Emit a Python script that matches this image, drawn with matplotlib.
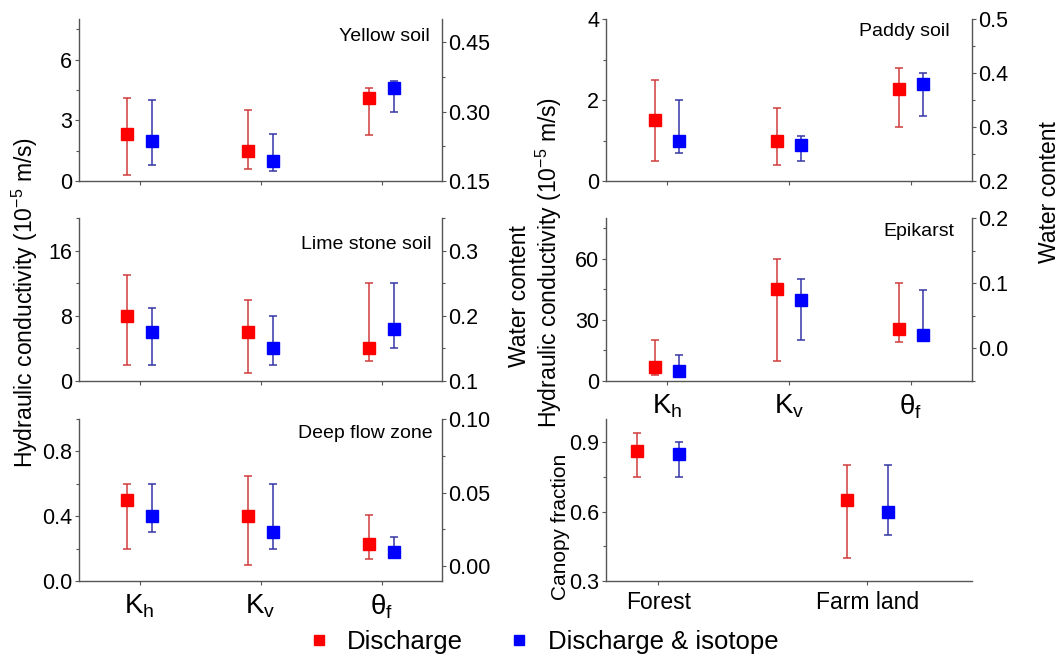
import numpy as np
import matplotlib
matplotlib.use('Agg')
import matplotlib.pyplot as plt
from matplotlib.ticker import MultipleLocator, FormatStrFormatter
from matplotlib.lines import Line2D

plt.rcParams['font.family'] = ['Liberation Sans', 'DejaVu Sans']
plt.rcParams['mathtext.fontset'] = 'custom'
plt.rcParams['mathtext.rm'] = 'Liberation Sans'
plt.rcParams['mathtext.it'] = 'Liberation Sans:italic'

params = [r'$\mathregular{K_h}$', r'$\mathregular{K_v}$', r'$\mathregular{\theta_f}$']
lands = ['Forest', 'Farm land']

# values per panel: [Kh, Kv, theta_f]  (theta_f goes on the right axis)
yellow_dis = [2.3, 1.5, 0.33]
yellow_dis_lo = [0.3, 0.6, 0.25]
yellow_dis_hi = [4.1, 3.5, 0.35]
yellow_iso = [2.0, 1.0, 0.35]
yellow_iso_lo = [0.8, 0.5, 0.30]
yellow_iso_hi = [4.0, 2.3, 0.365]

lime_dis = [8.0, 6.0, 0.15]
lime_dis_lo = [2.0, 1.0, 0.13]
lime_dis_hi = [13.0, 10.0, 0.25]
lime_iso = [6.0, 4.0, 0.18]
lime_iso_lo = [2.0, 2.0, 0.15]
lime_iso_hi = [9.0, 8.0, 0.25]

deep_dis = [0.5, 0.4, 0.015]
deep_dis_lo = [0.2, 0.1, 0.005]
deep_dis_hi = [0.6, 0.65, 0.035]
deep_iso = [0.4, 0.3, 0.010]
deep_iso_lo = [0.3, 0.2, 0.007]
deep_iso_hi = [0.6, 0.6, 0.020]

paddy_dis = [1.5, 1.0, 0.37]
paddy_dis_lo = [0.5, 0.4, 0.30]
paddy_dis_hi = [2.5, 1.8, 0.41]
paddy_iso = [1.0, 0.9, 0.38]
paddy_iso_lo = [0.7, 0.5, 0.32]
paddy_iso_hi = [2.0, 1.1, 0.40]

epi_dis = [7.0, 45.0, 0.03]
epi_dis_lo = [3.0, 10.0, 0.01]
epi_dis_hi = [20.0, 60.0, 0.10]
epi_iso = [5.0, 40.0, 0.02]
epi_iso_lo = [3.0, 20.0, 0.015]
epi_iso_hi = [13.0, 50.0, 0.09]

canopy_dis = [0.86, 0.65]
canopy_dis_lo = [0.75, 0.40]
canopy_dis_hi = [0.94, 0.80]
canopy_iso = [0.85, 0.60]
canopy_iso_lo = [0.75, 0.50]
canopy_iso_hi = [0.90, 0.80]

RED, RED_E = '#ff0000', '#d03c3c'
BLUE, BLUE_E = '#0000ff', '#3535a5'
SPINE = '#555555'
W, H = 1064, 664


def style_axis(ax, left=True, right=False):
    for side in ['top', 'right', 'left', 'bottom']:
        ax.spines[side].set_visible(False)
    if left:
        ax.spines['left'].set_visible(True)
        ax.spines['bottom'].set_visible(True)
    if right:
        ax.spines['right'].set_visible(True)
    for s in ax.spines.values():
        s.set_color(SPINE)
        s.set_linewidth(1.0)
    ax.tick_params(which='major', direction='out', length=3, width=0.8, color=SPINE,
                   labelsize=15.5, pad=1.2 if right else 1.8)
    ax.tick_params(which='minor', direction='out', length=2, width=0.8, color=SPINE)


def draw_bars(ax, x, mid, lo, hi, mcolor, ecolor):
    mid = np.asarray(mid)
    err = [mid - np.asarray(lo), np.asarray(hi) - mid]
    ax.errorbar(x, mid, yerr=err, fmt='s', ms=8, color=mcolor, mec=mcolor,
                ecolor=ecolor, elinewidth=1.1, capsize=3, capthick=1.1)


def plot_panel(rect, dis, dis_lo, dis_hi, iso, iso_lo, iso_hi, title, title_xy,
               klim, kmaj, kfmt, tlim, tmaj, tfmt, show_x=False):
    ax = fig.add_axes(rect)
    ax2 = ax.twinx()
    x = np.arange(1, 4)
    for d, lo, hi, mc, ec, sh in [(dis, dis_lo, dis_hi, RED, RED_E, -0.1),
                                  (iso, iso_lo, iso_hi, BLUE, BLUE_E, 0.1)]:
        draw_bars(ax, x[:2] + sh, d[:2], lo[:2], hi[:2], mc, ec)
        draw_bars(ax2, x[2:] + sh, d[2:], lo[2:], hi[2:], mc, ec)
    ax.set_xlim(0.5, 3.5)
    ax.set_ylim(*klim)
    ax.yaxis.set_major_locator(MultipleLocator(kmaj))
    ax.yaxis.set_minor_locator(MultipleLocator(kmaj / 2))
    ax.yaxis.set_major_formatter(FormatStrFormatter(kfmt))
    ax2.set_ylim(*tlim)
    ax2.yaxis.set_major_locator(MultipleLocator(tmaj))
    ax2.yaxis.set_minor_locator(MultipleLocator(tmaj / 2))
    ax2.yaxis.set_major_formatter(FormatStrFormatter(tfmt))
    ax.set_xticks(x)
    style_axis(ax)
    style_axis(ax2, left=False, right=True)
    if show_x:
        ax.set_xticklabels(params)
    else:
        ax.set_xticklabels([])
    ax.tick_params(axis='x', length=3, pad=5, labelsize=20)
    ax2.text(title_xy[0], title_xy[1], title, transform=ax2.transAxes,
             ha='right', va='center', fontsize=14)
    return ax


fig = plt.figure(figsize=(W / 100, H / 100), dpi=100)

left_x, left_w = 79 / W, 363 / W
right_x, right_w = 606 / W, 366 / W
rows = [(1 - 181 / H, 162 / H), (1 - 381 / H, 163 / H), (1 - 581 / H, 162 / H)]

plot_panel([left_x, rows[0][0], left_w, rows[0][1]], yellow_dis, yellow_dis_lo, yellow_dis_hi,
           yellow_iso, yellow_iso_lo, yellow_iso_hi, 'Yellow soil', (0.967, 0.895),
           (0, 8), 3, '%g', (0.15, 0.50), 0.15, '%.2f')
plot_panel([left_x, rows[1][0], left_w, rows[1][1]], lime_dis, lime_dis_lo, lime_dis_hi,
           lime_iso, lime_iso_lo, lime_iso_hi, 'Lime stone soil', (0.972, 0.84),
           (0, 20), 8, '%g', (0.1, 0.35), 0.1, '%.1f')
plot_panel([left_x, rows[2][0], left_w, rows[2][1]], deep_dis, deep_dis_lo, deep_dis_hi,
           deep_iso, deep_iso_lo, deep_iso_hi, 'Deep flow zone', (0.975, 0.91),
           (0, 1.0), 0.4, '%.1f', (-0.01, 0.10), 0.05, '%.2f', show_x=True)
plot_panel([right_x, rows[0][0], right_w, rows[0][1]], paddy_dis, paddy_dis_lo, paddy_dis_hi,
           paddy_iso, paddy_iso_lo, paddy_iso_hi, 'Paddy soil', (0.94, 0.92),
           (0, 4), 2, '%g', (0.2, 0.5), 0.1, '%.1f')
plot_panel([right_x, rows[1][0], right_w, rows[1][1]], epi_dis, epi_dis_lo, epi_dis_hi,
           epi_iso, epi_iso_lo, epi_iso_hi, 'Epikarst', (0.953, 0.92),
           (0, 80), 30, '%g', (-0.05, 0.2), 0.1, '%.1f', show_x=True)

# canopy fraction panel
axc = fig.add_axes([right_x, rows[2][0], right_w, rows[2][1]])
xc = np.arange(1, 3)
draw_bars(axc, xc - 0.1, canopy_dis, canopy_dis_lo, canopy_dis_hi, RED, RED_E)
draw_bars(axc, xc + 0.1, canopy_iso, canopy_iso_lo, canopy_iso_hi, BLUE, BLUE_E)
axc.set_xlim(0.75, 2.5)
axc.set_ylim(0.3, 1.0)
axc.yaxis.set_major_locator(MultipleLocator(0.3))
axc.yaxis.set_minor_locator(MultipleLocator(0.15))
axc.yaxis.set_major_formatter(FormatStrFormatter('%.1f'))
axc.set_xticks(xc)
axc.set_xticklabels(lands)
style_axis(axc)
axc.tick_params(axis='x', length=3, pad=4, labelsize=16.5)

# axis labels
ylab = r'Hydraulic conductivity (10$^\mathregular{-5}$ m/s)'
fig.text(25 / W, 1 - 302 / H, ylab, rotation=90, ha='center', va='center', fontsize=16.5)
fig.text(520 / W, 1 - 296 / H, 'Water content', rotation=90, ha='center', va='center', fontsize=16.5)
fig.text(549 / W, 1 - 262 / H, ylab, rotation=90, ha='center', va='center', fontsize=16.5)
fig.text(1050 / W, 1 - 192 / H, 'Water content', rotation=90, ha='center', va='center', fontsize=16.5)
fig.text(560 / W, 1 - 527 / H, 'Canopy fraction', rotation=90, ha='center', va='center', fontsize=15)

handles = [Line2D([], [], ls='none', marker='s', ms=7, color=RED),
           Line2D([], [], ls='none', marker='s', ms=7, color=BLUE)]
fig.legend(handles, ['Discharge', 'Discharge & isotope'], loc='center',
           bbox_to_anchor=(542 / W, 1 - 642 / H), ncol=2, frameon=False, fontsize=18.5,
           handlelength=1.0, handletextpad=0.6, columnspacing=1.7, borderpad=0)

fig.savefig('out.png', dpi=100, facecolor='white')
